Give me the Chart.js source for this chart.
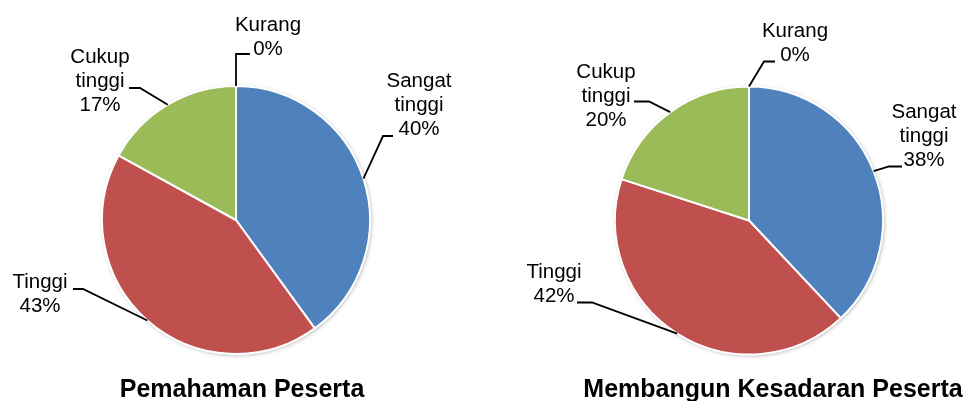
<!DOCTYPE html>
<html>
<head>
<meta charset="utf-8">
<script src="https://cdn.jsdelivr.net/npm/chart.js@4"></script>
<style>
  html, body { margin: 0; padding: 0; background: #fff; }
  #wrap { position: relative; width: 967px; height: 401px; overflow: hidden; }
  .box { position: absolute; top: 0; height: 401px; }
</style>
</head>
<body>
<div id="wrap">
  <div class="box" style="left:0;width:487px"><canvas id="pemahaman"></canvas></div>
  <div class="box" style="left:487px;width:480px"><canvas id="kesadaran"></canvas></div>
</div>
<script>
// data
const categories = ['Sangat tinggi', 'Tinggi', 'Cukup tinggi', 'Kurang'];
const pemahamanValues = [40, 43, 17, 0];
const kesadaranValues = [38, 42, 20, 0];
const chartTitles = ['Pemahaman Peserta', 'Membangun Kesadaran Peserta'];

const warna = ['#4F81BD', '#C0504D', '#9BBB59', '#8064A2'];
const fonte = '"Liberation Sans", Arial, sans-serif';

// label placement, relative to the pie centre (elbow of leader, end of leader, text x, first baseline)
const posPemahaman = [
  { ex: 147, ey: -84, hx: 157, tx: 183, ty: -133 },
  { ex: -153, ey: 69, hx: -163, tx: -196, ty: 68 },
  { ex: -96, ey: -132, hx: -107, tx: -136, ty: -157 },
  { ex: 0, ey: -166, hx: 14, tx: 32, ty: -189 }
];
const posKesadaran = [
  { ex: 140, ey: -54, hx: 153, tx: 175, ty: -103 },
  { ex: -157, ey: 82, hx: -172, tx: -195, ty: 57 },
  { ex: -100, ey: -119, hx: -115, tx: -143, ty: -143 },
  { ex: 15, ey: -159, hx: 26, tx: 46, ty: -184 }
];

// soft shadow under the pie, like the office chart
const bayangan = {
  id: 'bayangan',
  beforeDatasetsDraw(chart) {
    const arc = chart.getDatasetMeta(0).data[0];
    if (!arc) return;
    const ctx = chart.ctx;
    ctx.save();
    ctx.shadowColor = 'rgba(0,0,0,0.35)';
    ctx.shadowBlur = 4;
    ctx.shadowOffsetX = 1;
    ctx.shadowOffsetY = 1;
    ctx.fillStyle = '#fff';
    ctx.beginPath();
    ctx.arc(arc.x, arc.y, arc.outerRadius, 0, Math.PI * 2);
    ctx.fill();
    ctx.restore();
  }
};

// labels with leader lines + title under the pie
const labelPie = {
  id: 'labelPie',
  afterDatasetsDraw(chart, args, opts) {
    const ctx = chart.ctx;
    const meta = chart.getDatasetMeta(0);
    const nilai = chart.data.datasets[0].data;
    ctx.save();
    ctx.strokeStyle = '#000';
    ctx.lineWidth = 1.8;
    ctx.fillStyle = '#000';
    ctx.textAlign = 'center';
    ctx.textBaseline = 'alphabetic';
    ctx.font = '20.5px ' + fonte;
    meta.data.forEach(function(arc, i) {
      const p = opts.pos[i];
      const cx = arc.x, cy = arc.y;
      const tengah = (arc.startAngle + arc.endAngle) / 2;
      const ax = cx + arc.outerRadius * Math.cos(tengah);
      const ay = cy + arc.outerRadius * Math.sin(tengah);
      ctx.beginPath();
      ctx.moveTo(ax, ay);
      ctx.lineTo(cx + p.ex, cy + p.ey);
      ctx.lineTo(cx + p.hx, cy + p.ey);
      ctx.stroke();
      const baris = chart.data.labels[i].split(' ');
      baris.push(nilai[i] + '%');
      baris.forEach(function(t, j) {
        ctx.fillText(t, cx + p.tx, cy + p.ty + j * 24);
      });
    });
    ctx.font = 'bold 25px ' + fonte;
    ctx.fillText(opts.judul, opts.judulX, 397);
    ctx.restore();
  }
};

function buatPie(id, values, pos, judul, judulX, pad) {
  return new Chart(document.getElementById(id), {
    type: 'pie',
    data: {
      labels: categories,
      datasets: [{
        data: values,
        backgroundColor: warna,
        borderColor: '#fff',
        borderWidth: 2,
        radius: 134
      }]
    },
    options: {
      responsive: true,
      maintainAspectRatio: false,
      animation: false,
      layout: { padding: pad },
      plugins: {
        legend: { display: false },
        tooltip: { enabled: false },
        labelPie: { pos: pos, judul: judul, judulX: judulX }
      }
    },
    plugins: [bayangan, labelPie]
  });
}

buatPie('pemahaman', pemahamanValues, posPemahaman, chartTitles[0], 242, { left: 0, right: 15, top: 39, bottom: 0 });
buatPie('kesadaran', kesadaranValues, posKesadaran, chartTitles[1], 286, { left: 44, right: 0, top: 40, bottom: 0 });
</script>
</body>
</html>
